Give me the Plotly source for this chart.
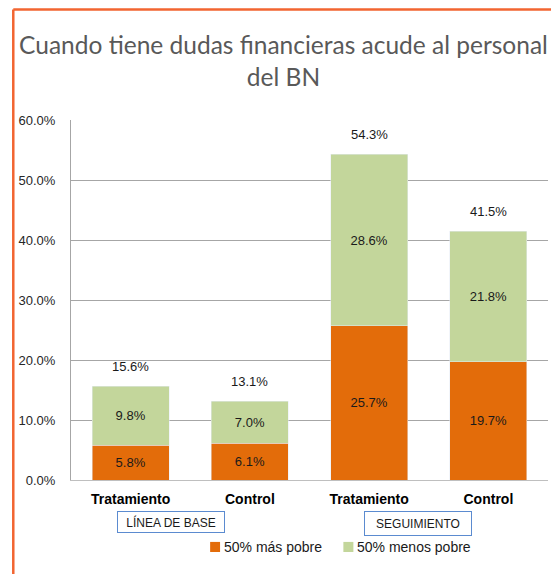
import plotly.graph_objects as go

categories = ["Tratamiento", "Control", "Tratamiento", "Control"]
mas_pobre = [5.8, 6.1, 25.7, 19.7]
menos_pobre = [9.8, 7.0, 28.6, 21.8]
totales = [15.6, 13.1, 54.3, 41.5]
tick_vals = [0, 10, 20, 30, 40, 50, 60]
tick_text = ["0.0%", "10.0%", "20.0%", "30.0%", "40.0%", "50.0%", "60.0%"]
group_labels = ["LÍNEA DE BASE", "SEGUIMIENTO"]
series_names = ["50% más pobre", "50% menos pobre"]

x = list(range(len(categories)))
ORANGE = "#E36C0A"
GREEN = "#C3D69B"
FONT = "Liberation Sans, Arial, sans-serif"
LBL = dict(size=13, color="#1a1a1a", family=FONT)

fig = go.Figure()
fig.add_trace(go.Bar(
    x=x, y=mas_pobre, name=series_names[0], marker_color=ORANGE,
    text=[f"{v:.1f}%" for v in mas_pobre], textposition="inside",
    insidetextanchor="middle", textfont=LBL, hoverinfo="skip"))
fig.add_trace(go.Bar(
    x=x, y=menos_pobre, name=series_names[1], marker_color=GREEN,
    text=[f"{v:.1f}%" for v in menos_pobre], textposition="inside",
    insidetextanchor="middle", textfont=LBL, hoverinfo="skip"))

for xi, t in zip(x, totales):
    fig.add_annotation(x=xi, y=t, text=f"{t:.1f}%", showarrow=False,
                       yanchor="bottom", yshift=10, font=LBL)

# group boxes
fig.add_annotation(x=0.34, y=-0.117, xref="x", yref="paper", text=group_labels[0],
                   showarrow=False, bordercolor="#5B8BD0", borderwidth=1, borderpad=2,
                   width=102, height=16, xanchor="center", yanchor="middle",
                   font=dict(size=12, color="#1a1a1a", family=FONT))
fig.add_annotation(x=2.41, y=-0.122, xref="x", yref="paper", text=group_labels[1],
                   showarrow=False, bordercolor="#5B8BD0", borderwidth=1, borderpad=2,
                   width=102, height=19, xanchor="center", yanchor="middle",
                   font=dict(size=12, color="#1a1a1a", family=FONT))

# manual legend
LEG = dict(size=14, color="#1a1a1a", family=FONT)
for (sx0, sx1, tx), col, name in zip([(0.2917, 0.3125, 0.317), (0.571, 0.592, 0.596)],
                                      [ORANGE, GREEN], series_names):
    fig.add_shape(type="rect", xref="paper", yref="paper", x0=sx0, x1=sx1,
                  y0=-0.2, y1=-0.172, fillcolor=col, line=dict(width=0))
    fig.add_annotation(x=tx, y=-0.186, xref="paper", yref="paper", xanchor="left",
                       yanchor="middle", text=name, showarrow=False, font=LEG)

# orange frame (left and top)
fig.add_shape(type="line", xref="paper", yref="paper", x0=-0.121, x1=-0.121,
              y0=-0.3, y1=1.307, line=dict(color="#F26531", width=2.5))
fig.add_shape(type="line", xref="paper", yref="paper", x0=-0.121, x1=1.05,
              y0=1.307, y1=1.307, line=dict(color="#F26531", width=2.5))

fig.update_layout(
    width=551, height=566,
    margin=dict(l=59, r=11, t=112, b=94),
    barmode="stack", bargap=0.353,
    plot_bgcolor="white", paper_bgcolor="white",
    title=dict(text="Cuando tiene dudas financieras acude al personal<br>del BN",
               x=0.5, xref="container", xanchor="center",
               y=0.918, yref="container", yanchor="top",
               font=dict(size=24.5, color="#595959", family="Lato, sans-serif")),
    showlegend=False,
    xaxis=dict(tickvals=x, ticktext=categories, range=[-0.5, 3.5],
               showline=True, linecolor="#BFBFBF", linewidth=1,
               showgrid=False, zeroline=False,
               tickfont=dict(size=14, color="#000000", family=FONT, weight="bold"),
               ticklabelstandoff=6),
    yaxis=dict(range=[0, 60], tickvals=tick_vals, ticktext=tick_text,
               showgrid=True, gridcolor="#A6A6A6", gridwidth=1,
               showline=True, linecolor="#A6A6A6", linewidth=1, zeroline=False,
               tickfont=dict(size=13, color="#262626", family=FONT),
               ticklabelstandoff=12),
)

fig.write_html("out.html")
